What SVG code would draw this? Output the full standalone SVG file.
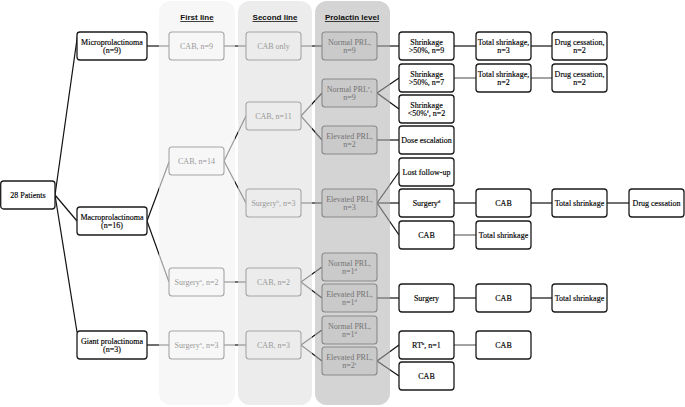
<svg xmlns="http://www.w3.org/2000/svg" width="685" height="407" viewBox="0 0 685 407">
<style>
text{font-family:"Liberation Serif","Times New Roman",serif;font-size:8px;text-anchor:middle}
.hd{font-family:"Liberation Sans",Arial,sans-serif;font-weight:bold;font-size:8px;text-decoration:underline;fill:#111}
.b rect{fill:#fff;stroke:#1a1a1a;stroke-width:1.3}
.b text{fill:#000;stroke:#000;stroke-width:0.15}
.g1 rect{fill:#f7f7f7;stroke:#a6a6a6;stroke-width:1.1}
.g2 rect{fill:#ececec;stroke:#a6a6a6;stroke-width:1.1}
.g1 text,.g2 text{fill:#999}
.p rect{fill:#cacaca;stroke:#8a8a8a;stroke-width:1.1}
.p text{fill:#747474}
#connectors line{stroke:#111;stroke-width:1.2}
</style>
<rect width="685" height="407" fill="#fff"/>
<g id="columns">
<rect x="159" y="1" width="76" height="404" rx="12" fill="#f7f7f7"/>
<rect x="238" y="1" width="74" height="404" rx="12" fill="#ececec"/>
<rect x="315" y="1" width="75" height="404" rx="12" fill="#d4d4d4"/>
</g>
<g id="connectors">
<line x1="55" y1="195" x2="78" y2="32"/>
<line x1="55" y1="195" x2="77" y2="221"/>
<line x1="55" y1="195" x2="77" y2="332"/>
<line x1="147" y1="46" x2="169" y2="46"/>
<line x1="224" y1="46" x2="246" y2="46"/>
<line x1="301" y1="46" x2="322" y2="46"/>
<line x1="377" y1="46" x2="399" y2="46"/>
<line x1="454" y1="46" x2="476" y2="46"/>
<line x1="531" y1="46" x2="552" y2="46"/>
<line x1="147" y1="221" x2="169" y2="162"/>
<line x1="147" y1="221" x2="169" y2="282"/>
<line x1="224" y1="161" x2="246" y2="116"/>
<line x1="224" y1="161" x2="246" y2="203"/>
<line x1="224" y1="282" x2="246" y2="282"/>
<line x1="147" y1="345" x2="169" y2="345"/>
<line x1="224" y1="345" x2="246" y2="345"/>
<line x1="301" y1="116" x2="322" y2="93"/>
<line x1="301" y1="116" x2="322" y2="140"/>
<line x1="301" y1="203" x2="322" y2="203"/>
<line x1="301" y1="282" x2="322" y2="267"/>
<line x1="301" y1="282" x2="322" y2="298"/>
<line x1="301" y1="345" x2="322" y2="330"/>
<line x1="301" y1="345" x2="322" y2="361"/>
<line x1="377" y1="93" x2="399" y2="78"/>
<line x1="377" y1="93" x2="399" y2="109"/>
<line x1="377" y1="140" x2="399" y2="140"/>
<line x1="377" y1="203" x2="399" y2="172"/>
<line x1="377" y1="203" x2="399" y2="203"/>
<line x1="377" y1="203" x2="399" y2="235"/>
<line x1="454" y1="78" x2="476" y2="78" style="stroke:#666"/>
<line x1="531" y1="78" x2="552" y2="78" style="stroke:#666"/>
<line x1="454" y1="203" x2="476" y2="203"/>
<line x1="531" y1="203" x2="552" y2="203"/>
<line x1="607" y1="203" x2="629" y2="203"/>
<line x1="454" y1="235" x2="476" y2="235" style="stroke:#666"/>
<line x1="377" y1="298" x2="399" y2="298"/>
<line x1="454" y1="298" x2="476" y2="298"/>
<line x1="531" y1="298" x2="552" y2="298"/>
<line x1="377" y1="361" x2="399" y2="345"/>
<line x1="377" y1="361" x2="399" y2="376"/>
<line x1="454" y1="345" x2="476" y2="345" style="stroke:#666"/>
</g>
<g id="column-tint">
<rect x="159" y="1" width="76" height="404" rx="12" fill="#f7f7f7" fill-opacity="0.6"/>
<rect x="238" y="1" width="74" height="404" rx="12" fill="#ececec" fill-opacity="0.6"/>
<rect x="315" y="1" width="75" height="404" rx="12" fill="#d4d4d4" fill-opacity="0.45"/>
</g>
<g id="headers">
<text class="hd" x="197" y="20">First line</text>
<text class="hd" x="275" y="20">Second line</text>
<text class="hd" x="352" y="20">Prolactin level</text>
</g>
<g id="n-root" class="b"><rect x="0.7" y="181" width="54.3" height="28" rx="3"/><text x="28" y="198">28 Patients</text></g>
<g id="n-micro" class="b"><rect x="77" y="32" width="70" height="28" rx="3"/><text x="112" y="45">Microprolactinoma</text><text x="112" y="53">(n=9)</text></g>
<g id="n-macro" class="b"><rect x="77" y="207" width="70" height="28" rx="3"/><text x="112" y="220">Macroprolactinoma</text><text x="112" y="228">(n=16)</text></g>
<g id="n-giant" class="b"><rect x="77" y="331" width="70" height="28" rx="3"/><text x="112" y="344">Giant prolactinoma</text><text x="112" y="352">(n=3)</text></g>
<g id="n-fl-cab9" class="g1"><rect x="169" y="32" width="55" height="28" rx="3"/><text x="196.5" y="49">CAB, n=9</text></g>
<g id="n-fl-cab14" class="g1"><rect x="169" y="147" width="55" height="28" rx="3"/><text x="196.5" y="164">CAB, n=14</text></g>
<g id="n-fl-surg2" class="g1"><rect x="169" y="268" width="55" height="28" rx="3"/><text x="196.5" y="285">Surgery<tspan font-size="5" dy="-3">a</tspan><tspan dy="3">, n=2</tspan></text></g>
<g id="n-fl-surg3" class="g1"><rect x="169" y="331" width="55" height="28" rx="3"/><text x="196.5" y="348">Surgery<tspan font-size="5" dy="-3">a</tspan><tspan dy="3">, n=3</tspan></text></g>
<g id="n-sl-cabonly" class="g2"><rect x="246" y="32" width="55" height="28" rx="3"/><text x="273.5" y="49">CAB only</text></g>
<g id="n-sl-cab11" class="g2"><rect x="246" y="102" width="55" height="28" rx="3"/><text x="273.5" y="119">CAB, n=11</text></g>
<g id="n-sl-surg3" class="g2"><rect x="246" y="189" width="55" height="28" rx="3"/><text x="273.5" y="206">Surgery<tspan font-size="5" dy="-3">b</tspan><tspan dy="3">,  n=3</tspan></text></g>
<g id="n-sl-cab2" class="g2"><rect x="246" y="268" width="55" height="28" rx="3"/><text x="273.5" y="285">CAB, n=2</text></g>
<g id="n-sl-cab3" class="g2"><rect x="246" y="331" width="55" height="28" rx="3"/><text x="273.5" y="348">CAB, n=3</text></g>
<g id="n-p-normal9" class="p"><rect x="322" y="32" width="55" height="28" rx="3"/><text x="349.5" y="45">Normal PRL,</text><text x="349.5" y="53">n=9</text></g>
<g id="n-p-normal9c" class="p"><rect x="322" y="79" width="55" height="28" rx="3"/><text x="349.5" y="92">Normal PRL<tspan font-size="5" dy="-3">c</tspan><tspan dy="3">,</tspan></text><text x="349.5" y="100">n=9</text></g>
<g id="n-p-elev2" class="p"><rect x="322" y="126" width="55" height="28" rx="3"/><text x="349.5" y="139">Elevated PRL,</text><text x="349.5" y="147">n=2</text></g>
<g id="n-p-elev3" class="p"><rect x="322" y="189" width="55" height="28" rx="3"/><text x="349.5" y="202">Elevated PRL,</text><text x="349.5" y="210">n=3</text></g>
<g id="n-p-normal1a" class="p"><rect x="322" y="253" width="55" height="28" rx="3"/><text x="349.5" y="266">Normal PRL,</text><text x="349.5" y="274">n=1<tspan font-size="5" dy="-3">d</tspan></text></g>
<g id="n-p-elev1" class="p"><rect x="322" y="284" width="55" height="28" rx="3"/><text x="349.5" y="297">Elevated PRL,</text><text x="349.5" y="305">n=1<tspan font-size="5" dy="-3">d</tspan></text></g>
<g id="n-p-normal1b" class="p"><rect x="322" y="316" width="55" height="28" rx="3"/><text x="349.5" y="329">Normal PRL,</text><text x="349.5" y="337">n=1<tspan font-size="5" dy="-3">d</tspan></text></g>
<g id="n-p-elev2e" class="p"><rect x="322" y="347" width="55" height="28" rx="3"/><text x="349.5" y="360">Elevated PRL,</text><text x="349.5" y="368">n=2<tspan font-size="5" dy="-3">e</tspan></text></g>
<g id="n-shrink9" class="b"><rect x="399" y="32" width="55" height="28" rx="3"/><text x="426.5" y="45">Shrinkage</text><text x="426.5" y="53">&gt;50%, n=9</text></g>
<g id="n-shrink7" class="b"><rect x="399" y="64" width="55" height="28" rx="3"/><text x="426.5" y="77">Shrinkage</text><text x="426.5" y="85">&gt;50%,  n=7</text></g>
<g id="n-shrink2" class="b"><rect x="399" y="95" width="55" height="28" rx="3"/><text x="426.5" y="108">Shrinkage</text><text x="426.5" y="116">&lt;50%<tspan font-size="5" dy="-3">f</tspan><tspan dy="3">,  n=2</tspan></text></g>
<g id="n-dose" class="b"><rect x="399" y="126" width="55" height="28" rx="3"/><text x="426.5" y="143">Dose escalation</text></g>
<g id="n-lost" class="b"><rect x="399" y="158" width="55" height="28" rx="3"/><text x="426.5" y="175">Lost follow-up</text></g>
<g id="n-surgd" class="b"><rect x="399" y="189" width="55" height="28" rx="3"/><text x="426.5" y="206">Surgery<tspan font-size="5" dy="-3">d</tspan></text></g>
<g id="n-cab-a" class="b"><rect x="399" y="221" width="55" height="28" rx="3"/><text x="426.5" y="238">CAB</text></g>
<g id="n-surg" class="b"><rect x="399" y="284" width="55" height="28" rx="3"/><text x="426.5" y="301">Surgery</text></g>
<g id="n-rt" class="b"><rect x="399" y="331" width="55" height="28" rx="3"/><text x="426.5" y="348">RT<tspan font-size="5" dy="-3">b</tspan><tspan dy="3">, n=1</tspan></text></g>
<g id="n-cab-b" class="b"><rect x="399" y="362" width="55" height="28" rx="3"/><text x="426.5" y="379">CAB</text></g>
<g id="n-total3" class="b"><rect x="476" y="32" width="55" height="28" rx="3"/><text x="503.5" y="45">Total shrinkage,</text><text x="503.5" y="53">n=3</text></g>
<g id="n-total2" class="b"><rect x="476" y="64" width="55" height="28" rx="3"/><text x="503.5" y="77">Total shrinkage,</text><text x="503.5" y="85">n=2</text></g>
<g id="n-cab-c" class="b"><rect x="476" y="189" width="55" height="28" rx="3"/><text x="503.5" y="206">CAB</text></g>
<g id="n-total-a" class="b"><rect x="476" y="221" width="55" height="28" rx="3"/><text x="503.5" y="238">Total shrinkage</text></g>
<g id="n-cab-d" class="b"><rect x="476" y="284" width="55" height="28" rx="3"/><text x="503.5" y="301">CAB</text></g>
<g id="n-cab-e" class="b"><rect x="476" y="331" width="55" height="28" rx="3"/><text x="503.5" y="348">CAB</text></g>
<g id="n-drug2a" class="b"><rect x="552" y="32" width="55" height="28" rx="3"/><text x="579.5" y="45">Drug cessation,</text><text x="579.5" y="53">n=2</text></g>
<g id="n-drug2b" class="b"><rect x="552" y="64" width="55" height="28" rx="3"/><text x="579.5" y="77">Drug cessation,</text><text x="579.5" y="85">n=2</text></g>
<g id="n-total-b" class="b"><rect x="552" y="189" width="55" height="28" rx="3"/><text x="579.5" y="206">Total shrinkage</text></g>
<g id="n-total-c" class="b"><rect x="552" y="284" width="55" height="28" rx="3"/><text x="579.5" y="301">Total shrinkage</text></g>
<g id="n-drug" class="b"><rect x="629" y="189" width="55" height="28" rx="3"/><text x="656.5" y="206">Drug cessation</text></g>
</svg>
